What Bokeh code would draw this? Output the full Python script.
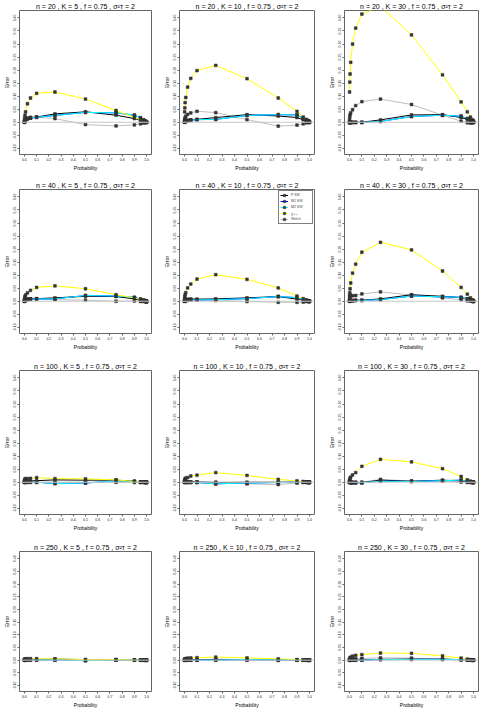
from bokeh.plotting import figure
from bokeh.layouts import gridplot
from bokeh.models import Range1d, FixedTicker, Span, Legend, LegendItem, PrintfTickFormatter
from bokeh.embed import file_html
from bokeh.resources import INLINE

probability = [0.001, 0.0025, 0.005, 0.01, 0.025, 0.05, 0.1, 0.25, 0.5, 0.75,
               0.9, 0.95, 0.975, 0.99, 0.995, 0.9975, 0.999]
n_values = [20, 40, 100, 250]
k_values = [5, 10, 30]
x_ticks = [0.0, 0.1, 0.2, 0.3, 0.4, 0.5, 0.6, 0.7, 0.8, 0.9, 1.0]
y_ticks = [-0.10, -0.05, 0.0, 0.05, 0.10, 0.15, 0.20, 0.25, 0.30, 0.35, 0.40]

# series per panel, keyed "n,K"
chi2 = {
    "20,5":  [0.006, 0.017, 0.027, 0.040, 0.071, 0.093, 0.111, 0.116, 0.089, 0.045, 0.018, 0.009, 0.004, 0.002, 0.001, 0.000, 0.000],
    "20,10": [0.040, 0.055, 0.075, 0.095, 0.135, 0.168, 0.198, 0.218, 0.167, 0.093, 0.042, 0.020, 0.011, 0.006, 0.004, 0.002, 0.001],
    "20,30": [0.116, 0.154, 0.185, 0.230, 0.300, 0.361, 0.415, 0.445, 0.335, 0.182, 0.078, 0.040, 0.020, 0.010, 0.007, 0.005, 0.003],
    "40,5":  [0.006, 0.013, 0.019, 0.024, 0.032, 0.042, 0.053, 0.059, 0.048, 0.025, 0.013, 0.006, 0.003, 0.001, 0.000, 0.000, 0.000],
    "40,10": [0.010, 0.018, 0.025, 0.033, 0.051, 0.066, 0.085, 0.102, 0.084, 0.051, 0.020, 0.010, 0.005, 0.002, 0.001, 0.000, 0.000],
    "40,30": [0.022, 0.033, 0.048, 0.070, 0.108, 0.142, 0.188, 0.226, 0.197, 0.116, 0.053, 0.027, 0.013, 0.005, 0.003, 0.002, 0.001],
    "100,5": [0.005, 0.009, 0.012, 0.014, 0.014, 0.015, 0.018, 0.014, 0.013, 0.009, 0.003, 0.001, 0.000, 0.000, 0.000, 0.000, 0.000],
    "100,10": [0.005, 0.009, 0.013, 0.016, 0.018, 0.024, 0.027, 0.037, 0.026, 0.011, 0.005, 0.003, 0.001, 0.000, 0.000, 0.000, 0.000],
    "100,30": [0.006, 0.010, 0.015, 0.020, 0.028, 0.037, 0.061, 0.088, 0.078, 0.052, 0.022, 0.009, 0.004, 0.001, 0.000, 0.000, 0.000],
    "250,5": [0.002, 0.003, 0.004, 0.005, 0.006, 0.006, 0.006, 0.005, 0.002, 0.002, 0.001, 0.000, 0.000, 0.000, 0.000, 0.000, 0.000],
    "250,10": [0.002, 0.004, 0.005, 0.006, 0.008, 0.009, 0.010, 0.012, 0.009, 0.005, 0.002, 0.001, 0.000, 0.000, 0.000, 0.000, 0.000],
    "250,30": [0.003, 0.006, 0.009, 0.012, 0.016, 0.019, 0.022, 0.028, 0.027, 0.017, 0.008, 0.004, 0.002, 0.001, 0.000, 0.000, 0.000],
}
p_sw = {
    "20,5":  [0.001, 0.004, 0.007, 0.010, 0.014, 0.017, 0.020, 0.032, 0.040, 0.027, 0.014, 0.008, 0.004, 0.002, 0.001, 0.000, 0.000],
    "20,10": [0.003, 0.004, 0.005, 0.006, 0.008, 0.009, 0.011, 0.018, 0.029, 0.024, 0.018, 0.009, 0.006, 0.003, 0.002, 0.001, 0.000],
    "20,30": [0.000, 0.000, 0.000, 0.000, 0.000, 0.000, 0.000, 0.009, 0.028, 0.029, 0.018, 0.011, 0.006, 0.004, 0.002, 0.001, 0.000],
    "40,5":  [0.001, 0.003, 0.005, 0.006, 0.008, 0.009, 0.010, 0.013, 0.019, 0.018, 0.009, 0.005, 0.003, 0.000, -0.001, -0.002, -0.003],
    "40,10": [0.002, 0.004, 0.005, 0.006, 0.008, 0.009, 0.008, 0.009, 0.013, 0.018, 0.008, 0.004, 0.001, 0.000, 0.000, 0.000, 0.000],
    "40,30": [0.001, 0.002, 0.002, 0.003, 0.003, 0.004, 0.004, 0.009, 0.025, 0.019, 0.014, 0.009, 0.005, 0.002, 0.001, 0.000, 0.000],
    "100,5": [0.002, 0.003, 0.004, 0.005, 0.005, 0.005, 0.006, 0.009, 0.008, 0.008, 0.004, 0.001, 0.000, 0.000, 0.000, 0.000, 0.000],
    "100,10": [0.001, 0.001, 0.001, 0.001, 0.001, 0.001, 0.001, -0.001, 0.000, 0.000, 0.000, 0.000, 0.000, 0.000, 0.000, 0.000, 0.000],
    "100,30": [0.000, 0.000, 0.000, 0.000, -0.001, -0.001, -0.001, 0.008, 0.004, 0.008, 0.005, 0.002, 0.001, 0.000, 0.000, 0.000, 0.000],
    "250,5": [0.001, 0.002, 0.002, 0.003, 0.003, 0.003, 0.003, 0.004, 0.002, 0.002, 0.001, 0.000, 0.000, 0.000, 0.000, 0.000, 0.000],
    "250,10": [0.001, 0.001, 0.001, 0.002, 0.002, 0.002, 0.002, 0.003, 0.002, 0.002, 0.001, 0.000, 0.000, 0.000, 0.000, 0.000, 0.000],
    "250,30": [0.000, 0.000, 0.000, 0.000, 0.000, 0.000, 0.001, 0.003, 0.004, 0.004, 0.002, 0.001, 0.000, 0.000, 0.000, 0.000, 0.000],
}
m1_sw = {
    "20,5":  [0.000, 0.003, 0.006, 0.009, 0.013, 0.016, 0.019, 0.026, 0.038, 0.036, 0.027, 0.017, 0.009, 0.004, 0.002, 0.001, 0.000],
    "20,10": [0.000, 0.001, 0.002, 0.003, 0.005, 0.008, 0.010, 0.011, 0.026, 0.029, 0.028, 0.015, 0.008, 0.004, 0.002, 0.001, 0.000],
    "20,30": [-0.001, -0.001, -0.001, -0.001, -0.001, -0.001, -0.001, 0.003, 0.022, 0.027, 0.023, 0.014, 0.008, 0.004, 0.002, 0.001, 0.000],
    "40,5":  [0.000, 0.002, 0.003, 0.004, 0.006, 0.008, 0.009, 0.009, 0.022, 0.020, 0.015, 0.008, 0.004, 0.002, 0.001, 0.000, 0.000],
    "40,10": [0.000, 0.001, 0.002, 0.003, 0.004, 0.005, 0.005, 0.006, 0.010, 0.018, 0.014, 0.005, 0.002, 0.001, 0.000, 0.000, 0.000],
    "40,30": [0.000, 0.001, 0.001, 0.002, 0.002, 0.003, 0.003, 0.006, 0.020, 0.017, 0.015, 0.009, 0.006, 0.002, 0.001, 0.000, 0.000],
    "100,5": [0.000, 0.000, 0.000, 0.000, 0.000, 0.000, 0.000, -0.005, -0.003, 0.005, 0.003, 0.000, 0.000, 0.000, 0.000, 0.000, 0.000],
    "100,10": [0.000, 0.000, 0.000, 0.000, -0.001, -0.001, -0.001, -0.006, -0.003, -0.001, 0.001, 0.000, 0.000, 0.000, 0.000, 0.000, 0.000],
    "100,30": [0.000, 0.000, -0.001, -0.001, -0.002, -0.002, -0.002, 0.004, 0.003, 0.006, 0.008, 0.004, 0.001, 0.000, 0.000, 0.000, 0.000],
    "250,5": [0.000, 0.000, 0.000, 0.000, 0.001, 0.001, 0.001, 0.001, -0.002, 0.001, 0.000, 0.000, 0.000, 0.000, 0.000, 0.000, 0.000],
    "250,10": [0.000, 0.000, 0.000, 0.000, 0.000, 0.000, 0.000, 0.000, 0.002, 0.001, 0.000, 0.000, 0.000, 0.000, 0.000, 0.000, 0.000],
    "250,30": [0.000, 0.000, 0.000, 0.000, 0.000, 0.000, 0.000, 0.002, 0.003, 0.003, 0.002, 0.001, 0.000, 0.000, 0.000, 0.000, 0.000],
}
m2_sw = {
    "20,5":  [0.000, 0.003, 0.006, 0.009, 0.013, 0.016, 0.019, 0.026, 0.038, 0.036, 0.027, 0.017, 0.009, 0.004, 0.002, 0.001, 0.000],
    "20,10": [0.000, 0.001, 0.002, 0.003, 0.005, 0.008, 0.010, 0.011, 0.026, 0.029, 0.028, 0.015, 0.008, 0.004, 0.002, 0.001, 0.000],
    "20,30": [-0.001, -0.001, -0.001, -0.001, -0.001, -0.001, -0.001, 0.003, 0.022, 0.027, 0.023, 0.014, 0.008, 0.004, 0.002, 0.001, 0.000],
    "40,5":  [0.000, 0.002, 0.003, 0.004, 0.006, 0.008, 0.009, 0.009, 0.022, 0.020, 0.015, 0.008, 0.004, 0.002, 0.001, 0.000, 0.000],
    "40,10": [0.000, 0.001, 0.002, 0.003, 0.004, 0.005, 0.005, 0.006, 0.010, 0.018, 0.014, 0.005, 0.002, 0.001, 0.000, 0.000, 0.000],
    "40,30": [0.000, 0.001, 0.001, 0.002, 0.002, 0.003, 0.003, 0.006, 0.020, 0.017, 0.015, 0.009, 0.006, 0.002, 0.001, 0.000, 0.000],
    "100,5": [0.000, 0.000, 0.000, 0.000, 0.000, 0.000, 0.000, -0.005, -0.003, 0.005, 0.003, 0.000, 0.000, 0.000, 0.000, 0.000, 0.000],
    "100,10": [0.000, 0.000, 0.000, 0.000, -0.001, -0.001, -0.001, -0.006, -0.003, -0.001, 0.001, 0.000, 0.000, 0.000, 0.000, 0.000, 0.000],
    "100,30": [0.000, 0.000, -0.001, -0.001, -0.002, -0.002, -0.002, 0.004, 0.003, 0.006, 0.008, 0.004, 0.001, 0.000, 0.000, 0.000, 0.000],
    "250,5": [0.000, 0.000, 0.000, 0.000, 0.001, 0.001, 0.001, 0.001, -0.002, 0.001, 0.000, 0.000, 0.000, 0.000, 0.000, 0.000, 0.000],
    "250,10": [0.000, 0.000, 0.000, 0.000, 0.000, 0.000, 0.000, 0.000, 0.002, 0.001, 0.000, 0.000, 0.000, 0.000, 0.000, 0.000, 0.000],
    "250,30": [0.000, 0.000, 0.000, 0.000, 0.000, 0.000, 0.000, 0.002, 0.003, 0.003, 0.002, 0.001, 0.000, 0.000, 0.000, 0.000, 0.000],
}
welch = {
    "20,5":  [0.000, 0.004, 0.008, 0.012, 0.016, 0.019, 0.020, 0.014, -0.009, -0.014, -0.010, -0.006, -0.003, -0.001, 0.000, 0.000, 0.000],
    "20,10": [0.006, 0.012, 0.017, 0.023, 0.030, 0.036, 0.042, 0.037, 0.010, -0.015, -0.011, -0.006, -0.002, 0.000, 0.000, 0.000, 0.000],
    "20,30": [0.010, 0.020, 0.029, 0.036, 0.048, 0.064, 0.079, 0.089, 0.068, 0.027, 0.004, -0.002, -0.003, -0.002, -0.001, -0.001, 0.000],
    "40,5":  [0.000, 0.003, 0.005, 0.006, 0.008, 0.009, 0.009, 0.006, 0.004, 0.000, 0.001, -0.001, -0.001, 0.000, 0.000, 0.000, 0.000],
    "40,10": [0.000, 0.001, 0.002, 0.003, 0.005, 0.006, 0.005, 0.003, -0.001, -0.004, -0.004, -0.003, -0.001, 0.000, 0.000, 0.000, 0.000],
    "40,30": [0.006, 0.013, 0.018, 0.023, 0.021, 0.022, 0.028, 0.036, 0.024, 0.013, 0.006, 0.002, 0.001, 0.000, 0.000, 0.000, 0.000],
    "100,5": [0.001, 0.001, 0.001, 0.001, 0.001, 0.001, 0.000, 0.000, -0.001, 0.000, -0.001, -0.001, 0.000, 0.000, 0.000, 0.000, 0.000],
    "100,10": [0.001, 0.001, 0.001, 0.001, 0.001, 0.001, 0.001, 0.000, -0.006, -0.009, -0.003, 0.000, 0.000, 0.000, 0.000, 0.000, 0.000],
    "100,30": [0.001, 0.001, 0.001, 0.001, 0.000, 0.000, 0.000, 0.011, 0.004, 0.004, 0.001, -0.001, -0.001, 0.000, 0.000, 0.000, 0.000],
    "250,5": [0.000, 0.000, 0.000, 0.000, 0.000, 0.000, 0.000, 0.000, -0.001, 0.000, 0.000, 0.000, 0.000, 0.000, 0.000, 0.000, 0.000],
    "250,10": [0.000, 0.000, 0.000, 0.000, 0.000, 0.000, 0.000, 0.001, 0.000, -0.001, 0.000, 0.000, 0.000, 0.000, 0.000, 0.000, 0.000],
    "250,30": [0.001, 0.002, 0.003, 0.004, 0.005, 0.006, 0.007, 0.009, 0.008, 0.004, 0.001, 0.000, 0.000, 0.000, 0.000, 0.000, 0.000],
}

series = [
    ("Welch", welch, "#BEBEBE"),
    ("P SW", p_sw, "black"),
    ("M1 SW", m1_sw, "blue"),
    ("M2 SW", m2_sw, "cyan"),
    ("\u03c7\u00b2\u2096\u208b\u2081", chi2, "yellow"),
]
legend_order = ["P SW", "M1 SW", "M2 SW", "\u03c7\u00b2\u2096\u208b\u2081", "Welch"]

FONT = "Liberation Sans"
col_w = [160, 165, 154]
col_l = [13, 16, 15]
col_r = [9, 11, 1]
row_h = [178, 181, 181, 170]
row_t = [10, 11, 11, 11]
row_b = [24, 26, 26, 15]

grid = []
for r, n in enumerate(n_values):
    row_figs = []
    for c, k in enumerate(k_values):
        key = f"{n},{k}"
        p = figure(width=col_w[c], height=row_h[r],
                   x_range=Range1d(-0.04, 1.04), y_range=Range1d(-0.1237, 0.4286),
                   output_backend="svg", toolbar_location=None,
                   min_border_left=col_l[c], min_border_right=col_r[c],
                   min_border_top=row_t[r], min_border_bottom=row_b[r],
                   title=f"n = {n} , K = {k} , f = 0.75 , \u03c3\u00b2\u1d1b = 2")
        p.title.text_font = FONT
        p.title.text_font_size = "7px"
        p.title.text_font_style = "normal"
        p.title.text_color = "black"
        p.title.align = "center"
        p.title.standoff = 1
        p.title.offset = 0
        p.xgrid.visible = False
        p.ygrid.visible = False
        p.outline_line_color = "#666666"
        p.outline_line_width = 1
        p.background_fill_color = "white"
        p.border_fill_color = "white"

        for ax, ticks, lab, fmt in ((p.xaxis[0], x_ticks, "Probability", "%.1f"),
                                    (p.yaxis[0], y_ticks, "Error", "%.2f")):
            ax.ticker = FixedTicker(ticks=ticks)
            ax.formatter = PrintfTickFormatter(format=fmt)
            ax.axis_label = lab
            ax.axis_label_text_font = FONT
            ax.axis_label_text_font_size = "5px"
            ax.axis_label_text_font_style = "normal"
            ax.axis_label_text_color = "black"
            ax.axis_label_standoff = 1
            ax.major_label_text_font = FONT
            ax.major_label_text_font_size = "3.5px"
            ax.major_label_text_color = "#222222"
            ax.major_label_standoff = 1
            ax.major_tick_out = 2
            ax.major_tick_in = 0
            ax.minor_tick_out = 0
            ax.minor_tick_in = 0
            ax.axis_line_color = None
            ax.major_tick_line_color = "#666666"
        p.yaxis[0].major_label_orientation = "vertical"

        p.add_layout(Span(location=0, dimension="width", line_color="#C8C8C8", line_width=1))

        rend = {}
        for name, data, color in series:
            ln = p.line(probability, data[key], line_color=color, line_width=1)
            sc = p.scatter(probability, data[key], marker="square", size=2.8,
                           line_color="#333333", line_width=0.5, fill_color="#333333")
            rend[name] = [ln, sc]

        if r == 1 and c == 1:
            items = [LegendItem(label=nm, renderers=rend[nm]) for nm in legend_order]
            leg = Legend(items=items, location="top_right")
            leg.margin = 1
            leg.padding = 1
            leg.spacing = 0
            leg.label_text_font = FONT
            leg.label_text_font_size = "3.5px"
            leg.label_height = 6
            leg.glyph_height = 6
            leg.glyph_width = 8
            leg.label_standoff = 3
            leg.border_line_color = "black"
            leg.border_line_width = 1
            leg.background_fill_alpha = 1
            p.add_layout(leg)
        row_figs.append(p)
    grid.append(row_figs)

layout = gridplot(grid, toolbar_location=None)
open("out.html", "w").write(file_html(layout, INLINE))
